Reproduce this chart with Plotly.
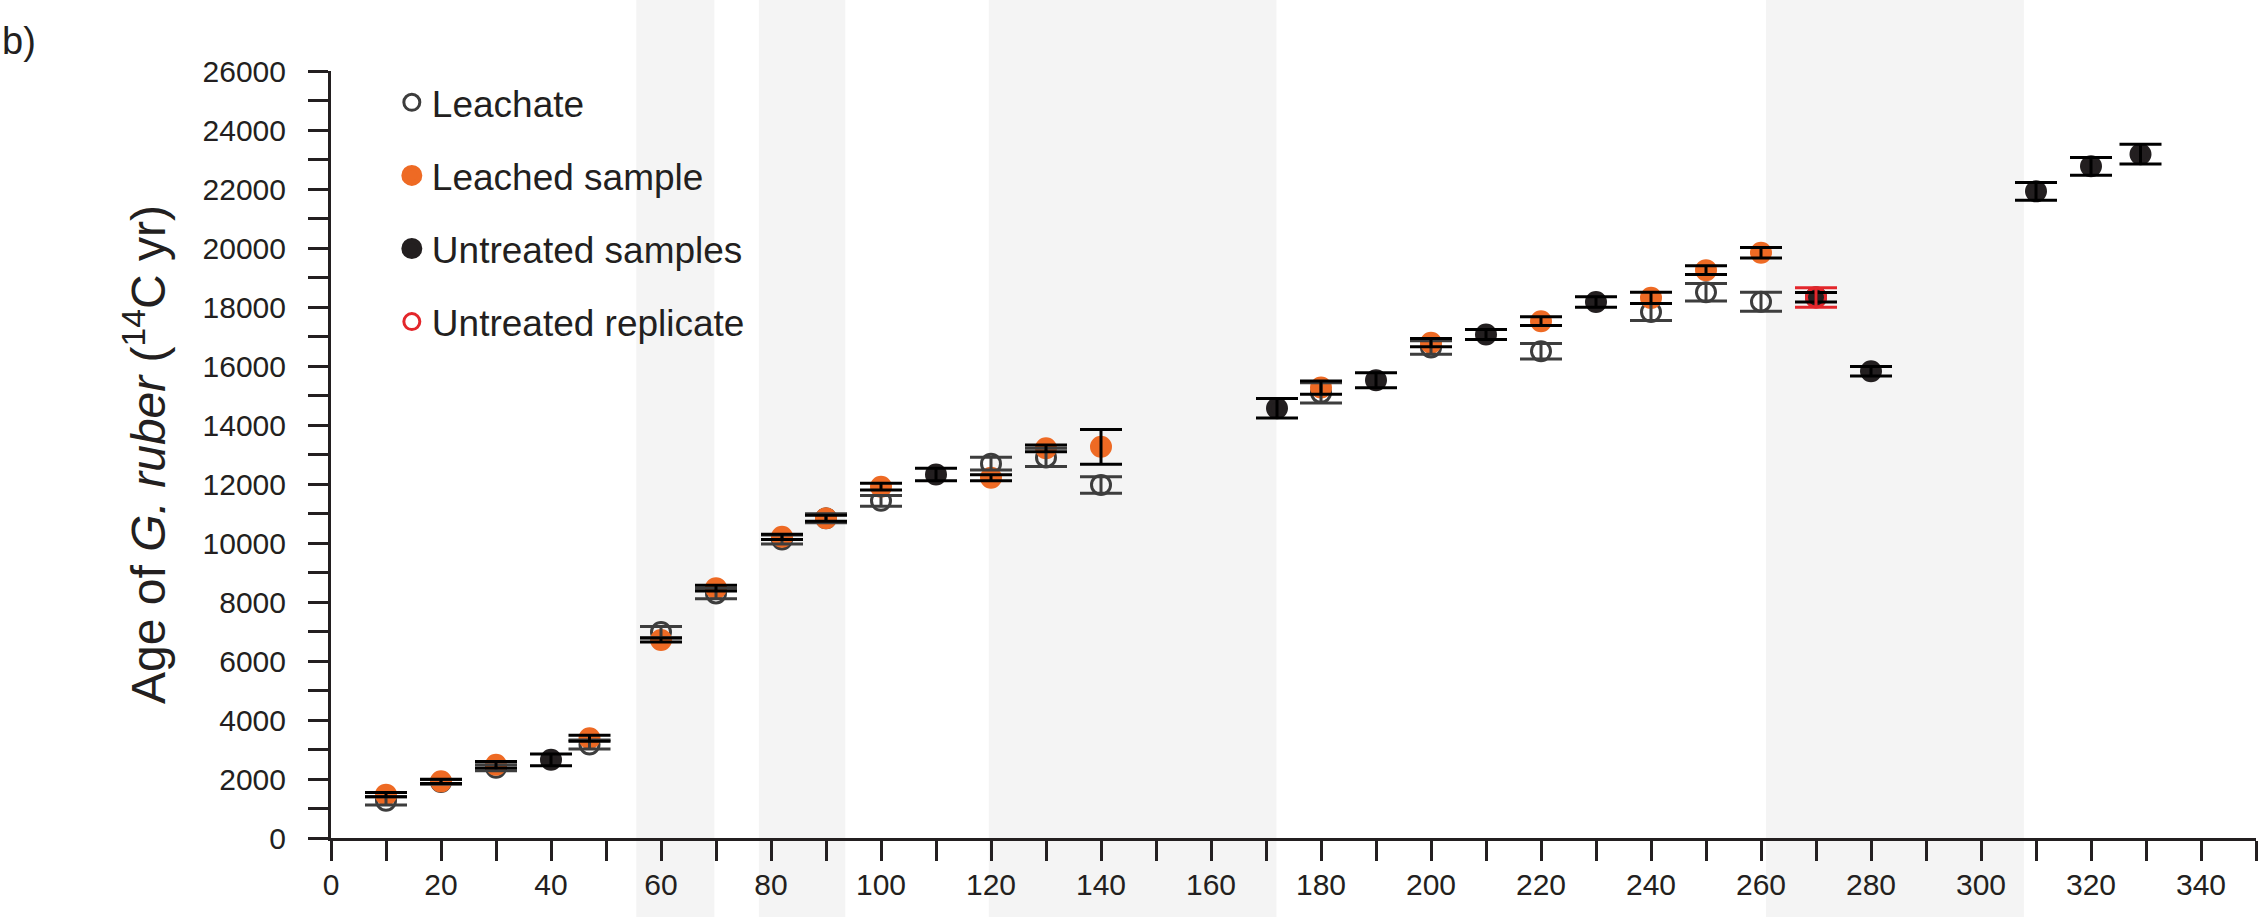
import plotly.graph_objects as go

# ---- data (depth in cm, 14C age in yr, 1-sigma error) ----
leachate_depth = [10, 20, 30, 47, 60, 70, 82, 90, 100, 120, 130, 140, 180, 200, 220, 240, 250, 260]
leachate_age = [1260, 1900, 2380, 3170, 6980, 8290, 10120, 10840, 11430, 12690, 12900, 11970,
                15090, 16630, 16500, 17830, 18500, 18180]
leachate_err = [140, 80, 100, 150, 190, 180, 150, 150, 180, 215, 310, 280,
                340, 230, 265, 290, 300, 320]

leached_depth = [10, 20, 30, 47, 60, 70, 82, 90, 100, 120, 130, 140, 180, 200, 220, 240, 250, 260]
leached_age = [1470, 1920, 2480, 3380, 6710, 8470, 10210, 10840, 11910, 12210, 13210, 13260,
               15270, 16790, 17520, 18310, 19250, 19840]
leached_err = [75, 70, 110, 100, 70, 100, 90, 100, 115, 100, 115, 590,
               225, 140, 150, 190, 145, 175]

untreated_depth = [40, 110, 172, 190, 210, 230, 270, 280, 310, 320, 329]
untreated_age = [2650, 12320, 14570, 15520, 17070, 18170, 18330, 15820, 21920, 22770, 23180]
untreated_err = [200, 210, 330, 255, 170, 180, 160, 160, 300, 300, 335]

replicate_depth = [270]
replicate_age = [18320]
replicate_err = [330]

band_start = [55.5, 77.8, 119.6, 260.9]
band_end = [69.7, 93.5, 171.9, 307.8]

x_ticks = list(range(0, 341, 20))
y_ticks = list(range(0, 26001, 2000))

# ---- styles ----
FONT = "Liberation Sans, Arial, Helvetica, sans-serif"
TXT = "#231f20"
ORANGE = "#ee6a24"
BLACK = "#231f20"
GREY = "#3d3d3d"
RED = "#e3262b"
BAND = "#f4f4f4"

fig = go.Figure()

# markers (filled: size + same-colour outline so the legend symbol stays large too)
fig.add_trace(go.Scatter(x=leachate_depth, y=leachate_age, mode="markers", name="Leachate",
                         legendgroup="a",
                         marker=dict(symbol="circle-open", size=19, color=GREY,
                                     line=dict(width=3, color=GREY))))
fig.add_trace(go.Scatter(x=leached_depth, y=leached_age, mode="markers", name="Leached sample",
                         legendgroup="b",
                         marker=dict(symbol="circle", size=17, color=ORANGE,
                                     line=dict(width=5, color=ORANGE))))
fig.add_trace(go.Scatter(x=untreated_depth, y=untreated_age, mode="markers", name="Untreated samples",
                         legendgroup="c",
                         marker=dict(symbol="circle", size=17, color=BLACK,
                                     line=dict(width=5, color=BLACK))))
fig.add_trace(go.Scatter(x=replicate_depth, y=replicate_age, mode="markers", name="Untreated replicate",
                         legendgroup="d",
                         marker=dict(symbol="circle-open", size=19, color=RED,
                                     line=dict(width=3, color=RED))))

# error bars drawn on top
for xs, ys, es, col in [(leachate_depth, leachate_age, leachate_err, GREY),
                        (leached_depth, leached_age, leached_err, "#000000"),
                        (untreated_depth, untreated_age, untreated_err, "#000000"),
                        (replicate_depth, replicate_age, replicate_err, RED)]:
    fig.add_trace(go.Scatter(x=xs, y=ys, mode="markers", showlegend=False, hoverinfo="skip",
                             marker=dict(size=1, color="rgba(0,0,0,0)"),
                             error_y=dict(type="data", array=es, visible=True,
                                          color=col, thickness=3, width=21)))

# shaded depth intervals (full figure height)
for b0, b1 in zip(band_start, band_end):
    fig.add_shape(type="rect", xref="x", yref="paper", x0=b0, x1=b1,
                  y0=-0.2, y1=1.2, fillcolor=BAND, line=dict(width=0), layer="below")

axis_common = dict(showline=True, linewidth=3, linecolor=BLACK, ticks="outside",
                   ticklen=20, tickwidth=3, tickcolor=BLACK, showgrid=False, zeroline=False,
                   tickfont=dict(family=FONT, size=30, color=TXT), automargin=False)

fig.update_xaxes(range=[0, 350], tickmode="array", tickvals=x_ticks,
                 ticktext=[str(v) for v in x_ticks], ticklabelstandoff=-2,
                 minor=dict(dtick=10, tick0=0, ticks="outside", ticklen=20, tickwidth=3,
                            tickcolor=BLACK),
                 **axis_common)
fig.update_yaxes(range=[0, 26000], tickmode="array", tickvals=y_ticks,
                 ticktext=[str(v) for v in y_ticks], ticklabelstandoff=16,
                 minor=dict(dtick=1000, tick0=0, ticks="outside", ticklen=20, tickwidth=3,
                            tickcolor=BLACK),
                 title=dict(text="Age of <i>G. ruber</i> (<sup>14</sup>C yr)",
                            font=dict(family=FONT, size=48, color=TXT), standoff=22),
                 **axis_common)

fig.add_annotation(text="b)", xref="paper", yref="paper", x=-331 / 1925, y=1 + 30 / 767,
                   xanchor="left", yanchor="middle", showarrow=False,
                   font=dict(family=FONT, size=38, color=TXT))

fig.update_layout(
    width=2258, height=917,
    margin=dict(l=331, r=2, t=71, b=79, pad=0),
    paper_bgcolor="white", plot_bgcolor="white",
    font=dict(family=FONT, color=TXT),
    showlegend=True,
    legend=dict(x=0.0316, y=0.999, xanchor="left", yanchor="top",
                bgcolor="rgba(0,0,0,0)", borderwidth=0,
                font=dict(family=FONT, size=37, color=TXT),
                tracegroupgap=22, itemsizing="trace"),
)

fig.write_html("out.html", config={"displayModeBar": False},
               post_script="document.body.style.margin='0';document.body.style.overflow='hidden';")
